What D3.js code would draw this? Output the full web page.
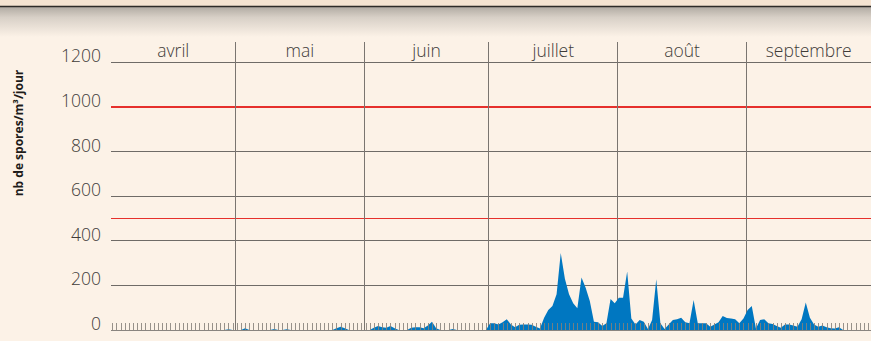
<!DOCTYPE html>
<html>
<head>
<meta charset="utf-8">
<script src="https://cdn.jsdelivr.net/npm/d3@7"></script>
<style>
  html, body { margin: 0; padding: 0; background: #fcf2e7; }
  svg { display: block; }
  text { font-family: "Open Sans", "Noto Sans", sans-serif; }
</style>
</head>
<body>
<svg id="chart" width="871" height="341"></svg>
<script>
// Month labels (April to September)
const months = ["avril", "mai", "juin", "juillet", "août", "septembre"];
// Y axis tick values
const yTicks = [0, 200, 400, 600, 800, 1000, 1200];
// Alert thresholds drawn in red
const thresholds = [500, 1000];
// Daily spore counts (spores/m³/day), 1 April to 30 September
const sporesAvril = [0,0,0,0,0,0,0,0,0,0, 0,0,0,0,0,0,0,0,0,0, 0,0,0,0,0,0,0,0,3,0];
const sporesMai = [0,0,8,0,0,0,0,0,0,4, 0,0,3,0,0,0,0,0,0,0, 0,0,0,0,8,15,8,0,0,0, 0];
const sporesJuin = [0,0,10,18,12,10,18,8,0,0, 0,10,12,12,8,20,37,8,0,0, 0,5,0,0,0,0,0,0,0,0];
const sporesJuillet = [30,30,25,35,48,25,12,24,25,25, 24,15,7,55,90,108,160,345,230,160, 120,97,235,190,130,37,35,18,30,139, 120];
const sporesAout = [145,145,262,52,25,45,37,5,45,228, 30,5,25,45,48,55,35,30,135,30, 30,30,15,25,35,63,54,52,48,30, 52];
const sporesSeptembre = [90,108,7,45,48,30,27,18,10,25, 25,20,15,48,123,55,25,15,20,12, 8,7,12,0,0,0,0,0,0,0];

const spores = [].concat(sporesAvril, sporesMai, sporesJuin, sporesJuillet, sporesAout, sporesSeptembre);
const start = Date.UTC(2016, 3, 1);
const DAY = 86400000;
const series = spores.map((v, i) => ({ date: new Date(start + i * DAY + 7 * 3600000), value: v }));

const W = 871, H = 341;
const svg = d3.select("#chart");

const x = d3.scaleUtc()
  .domain([new Date(Date.UTC(2016, 3, 1)), new Date(Date.UTC(2016, 9, 1))])
  .range([111, 871]);
const y = d3.scaleLinear().domain([0, 1200]).range([330, 62.4]);

// Background and header band with its soft shadow
const defs = svg.append("defs");
const grad = defs.append("linearGradient").attr("id", "shade").attr("x1", 0).attr("y1", 0).attr("x2", 0).attr("y2", 1);
grad.append("stop").attr("offset", 0).attr("stop-color", "#b2aba3");
grad.append("stop").attr("offset", 0.35).attr("stop-color", "#d8d0c7");
grad.append("stop").attr("offset", 1).attr("stop-color", "#fcf2e7");

svg.append("rect").attr("width", W).attr("height", H).attr("fill", "#fcf2e7");
svg.append("rect").attr("x", 0).attr("y", 0).attr("width", W).attr("height", 6).attr("fill", "#f5e3d1");
svg.append("rect").attr("x", 0).attr("y", 7).attr("width", W).attr("height", 30).attr("fill", "url(#shade)");
svg.append("line").attr("x1", 0).attr("x2", W).attr("y1", 6.5).attr("y2", 6.5)
  .attr("stroke", "#2e2b28").attr("stroke-width", 1.5);

// Horizontal gridlines (thresholds in red)
const grid = svg.append("g").attr("shape-rendering", "crispEdges");
grid.selectAll("line.h").data(yTicks.filter(d => d > 0)).join("line")
  .attr("class", "h")
  .attr("x1", 111).attr("x2", W)
  .attr("y1", d => y(d)).attr("y2", d => y(d))
  .attr("stroke", "#6f6b67").attr("stroke-width", 1);
grid.selectAll("line.t").data(thresholds).join("line")
  .attr("class", "t")
  .attr("x1", 111).attr("x2", W)
  .attr("y1", d => y(d)).attr("y2", d => y(d))
  .attr("stroke", "#e6302c").attr("stroke-width", 1.2);

// Month separators
const monthStarts = d3.utcMonth.range(new Date(Date.UTC(2016, 3, 1)), new Date(Date.UTC(2016, 9, 1)));
grid.selectAll("line.m").data(monthStarts.slice(1)).join("line")
  .attr("class", "m")
  .attr("x1", d => x(d)).attr("x2", d => x(d))
  .attr("y1", 42).attr("y2", 330)
  .attr("stroke", "#7a7570").attr("stroke-width", 1);

// Spore area
const area = d3.area()
  .x(d => x(d.date))
  .y0(y(0))
  .y1(d => y(d.value));
svg.append("path").datum(series).attr("d", area).attr("fill", "#0077c1");

// Daily ticks along the baseline
svg.append("g").selectAll("line").data(series).join("line")
  .attr("x1", d => Math.round(x(d.date)) + 0.5).attr("x2", d => Math.round(x(d.date)) + 0.5)
  .attr("y1", 323).attr("y2", 330)
  .attr("stroke", "#858079").attr("stroke-opacity", 0.85).attr("stroke-width", 1);

// Baseline
svg.append("line").attr("x1", 111).attr("x2", W).attr("y1", 330.5).attr("y2", 330.5)
  .attr("stroke", "#8a8580").attr("stroke-width", 1);

// Y tick labels
svg.append("g").selectAll("text").data(yTicks).join("text")
  .attr("x", 101).attr("y", d => y(d))
  .attr("text-anchor", "end")
  .attr("font-size", 17.5).attr("font-weight", 300)
  .attr("fill", "#3f3c39")
  .text(d => d);

// Month labels centred in each month
svg.append("g").selectAll("text").data(monthStarts).join("text")
  .attr("x", (d, i) => (x(d) + x(d3.utcMonth.offset(d, 1))) / 2)
  .attr("y", 57)
  .attr("text-anchor", "middle")
  .attr("font-size", 17.5).attr("font-weight", 300)
  .attr("fill", "#3f3c39")
  .text((d, i) => months[i]);

// Y axis title
svg.append("text")
  .attr("transform", "translate(23,133) rotate(-90)")
  .attr("text-anchor", "middle")
  .attr("font-size", 12).attr("font-weight", 700)
  .attr("fill", "#1e1c1a")
  .text("nb de spores/m³/jour");
</script>
</body>
</html>
